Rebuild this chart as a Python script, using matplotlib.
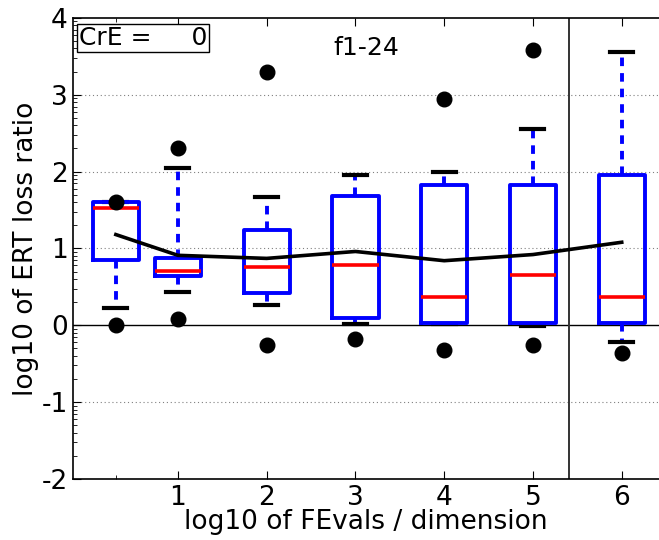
import numpy as np
import matplotlib
matplotlib.use("Agg")
import matplotlib.pyplot as plt
from matplotlib.ticker import FixedLocator

plt.rcParams["axes.unicode_minus"] = False

# budgets (log10 of FEvals / dimension) where the boxes sit
positions = [np.log10(2), 1, 2, 3, 4, 5, 6]
q1 = [0.85, 0.64, 0.42, 0.10, 0.03, 0.03, 0.03]
med = [1.52, 0.71, 0.76, 0.78, 0.37, 0.66, 0.37]
q3 = [1.60, 0.88, 1.24, 1.68, 1.82, 1.82, 1.95]
whislo = [0.23, 0.43, 0.27, 0.02, 0.01, -0.01, -0.22]
whishi = [1.60, 2.04, 1.67, 1.95, 2.00, 2.55, 3.56]
dots_lo = [0.00, 0.08, -0.26, -0.18, -0.32, -0.26, -0.36]
dots_hi = [1.61, 2.31, 3.30, np.nan, 2.94, 3.58, np.nan]
means = [1.18, 0.91, 0.87, 0.96, 0.84, 0.92, 1.08]
max_budget = 5.41
cre = 0
func_label = "f1-24"

fig = plt.figure(figsize=(6.59, 5.40), dpi=100)
ax = fig.add_axes([0.111, 0.113, 0.889, 0.854])

stats = []
for i in range(len(positions)):
    stats.append(dict(med=med[i], q1=q1[i], q3=q3[i],
                      whislo=whislo[i], whishi=whishi[i], fliers=[]))

ax.bxp(stats, positions=positions, widths=0.52, showfliers=False,
       manage_ticks=False,
       boxprops=dict(color="blue", linewidth=2.8, zorder=3),
       whiskerprops=dict(color="blue", linewidth=2.8, linestyle=(0, (2.2, 1.8))),
       capprops=dict(color="black", linewidth=3.0),
       medianprops=dict(color="red", linewidth=2.6, zorder=4))

ax.plot(positions, means, color="black", linewidth=2.6, zorder=5)
ax.plot(positions, dots_lo, "o", color="black", markersize=10.5, zorder=6)
ax.plot(positions, dots_hi, "o", color="black", markersize=10.5, zorder=6)

ax.axhline(0, color="black", linewidth=1.0, zorder=1)
ax.axvline(max_budget, color="#333333", linewidth=1.4, zorder=1)
for yv in [-1, 1, 2, 3]:
    ax.axhline(yv, color="gray", linewidth=0.8, linestyle=(0, (1, 2.5)), zorder=0)

ax.set_xlim(-0.18, 6.42)
ax.set_ylim(-2, 4)
ax.xaxis.set_major_locator(FixedLocator([1, 2, 3, 4, 5, 6]))
ax.xaxis.set_minor_locator(FixedLocator([np.log10(2)]))
ax.yaxis.set_major_locator(FixedLocator([-2, -1, 0, 1, 2, 3, 4]))
minor_y = [d + np.log10(k) for d in range(-2, 4) for k in range(2, 10)]
ax.yaxis.set_minor_locator(FixedLocator(minor_y))
ax.tick_params(axis="both", which="both", direction="in", top=True, right=False)
ax.tick_params(which="major", length=6, labelsize=19, pad=4)
ax.tick_params(which="minor", length=3)
ax.spines["right"].set_visible(False)
for sp in ["left", "top", "bottom"]:
    ax.spines[sp].set_linewidth(1.2)

ax.set_xlabel("log10 of FEvals / dimension", fontsize=19, labelpad=-1)
ax.set_ylabel("log10 of ERT loss ratio", fontsize=19, labelpad=2)

ax.text(0.01, 0.983, "CrE =     0", transform=ax.transAxes, fontsize=18,
        va="top", ha="left",
        bbox=dict(boxstyle="square,pad=0.08", facecolor="white", edgecolor="black"))
ax.text(0.5, 0.96, func_label, transform=ax.transAxes, fontsize=18,
        va="top", ha="center")

fig.savefig("out.png", dpi=100)
